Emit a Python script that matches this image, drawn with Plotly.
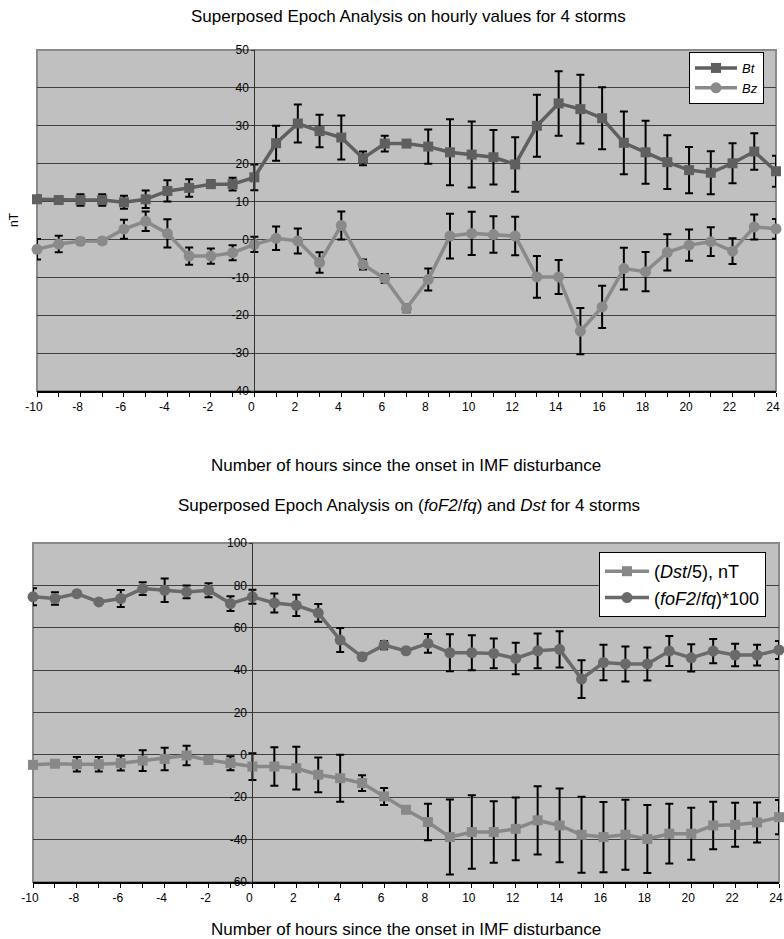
import plotly.graph_objects as go

hours = list(range(-10, 25))

bt = [10.6, 10.4, 10.4, 10.4, 9.8, 10.6, 12.8, 13.6, 14.6, 14.6, 16.4,
      25.4, 30.6, 28.6, 26.9, 21.4, 25.3, 25.3, 24.5, 23.0, 22.4, 21.7, 19.8,
      30.0, 35.9, 34.4, 32.0, 25.5, 23.0, 20.4, 18.3, 17.6, 20.1, 23.2, 18.0]
bt_err = [1.0, 0.8, 1.5, 1.5, 1.7, 2.3, 2.8, 2.3, 1.0, 1.7, 3.4,
          4.6, 5.0, 4.3, 5.8, 1.8, 2.1, 0.5, 4.5, 8.7, 8.7, 7.2, 7.2,
          8.2, 8.5, 9.1, 8.2, 8.3, 8.3, 7.1, 6.1, 5.7, 5.3, 4.8, 4.1]

bz = [-2.6, -1.2, -0.5, -0.4, 2.7, 4.8, 1.6, -4.4, -4.4, -3.5, -1.3,
      0.3, -0.4, -6.1, 3.7, -6.6, -10.3, -18.2, -10.6, 0.9, 1.6, 1.3, 0.9,
      -9.9, -9.9, -24.2, -17.8, -7.7, -8.5, -3.4, -1.5, -0.6, -3.1, 3.3, 2.8]
bz_err = [2.7, 2.2, 0.8, 0.8, 2.5, 2.6, 3.7, 2.3, 2.0, 2.0, 2.0,
          3.1, 3.3, 2.7, 3.7, 1.3, 1.2, 1.0, 2.9, 5.9, 5.7, 4.8, 5.1,
          5.5, 4.5, 6.1, 5.6, 5.5, 5.2, 4.8, 4.1, 3.8, 3.4, 3.3, 2.6]

fof2 = [74.6, 73.8, 76.1, 72.2, 73.8, 78.5, 77.7, 76.9, 77.7, 71.4, 74.6,
        71.7, 70.6, 67.0, 54.2, 46.3, 51.8, 49.1, 52.6, 48.2, 48.2, 47.9, 45.5,
        49.1, 49.8, 35.8, 43.6, 42.9, 42.9, 49.0, 45.8, 49.0, 47.1, 47.1, 49.5]
fof2_err = [4.0, 3.0, 1.0, 1.0, 4.0, 3.0, 5.5, 3.0, 3.3, 3.5, 3.3,
            4.5, 5.0, 4.2, 5.7, 1.5, 2.0, 1.5, 4.4, 8.7, 8.3, 7.0, 7.4,
            8.2, 8.6, 8.9, 8.4, 8.3, 7.8, 7.1, 6.4, 5.7, 5.3, 4.9, 4.2]

dst5 = [-4.7, -4.2, -4.4, -4.4, -3.9, -2.7, -1.9, -0.3, -2.4, -3.9, -5.5,
        -5.5, -6.3, -9.4, -11.0, -13.3, -19.6, -25.9, -31.7, -38.8, -36.4, -36.4, -34.9,
        -30.9, -33.3, -37.7, -38.8, -37.7, -39.7, -37.2, -37.2, -33.3, -33.0, -31.9, -29.4]
dst5_err = [1.0, 1.0, 3.4, 3.4, 3.5, 4.9, 5.3, 4.6, 1.2, 3.3, 6.3,
            9.1, 10.1, 8.2, 11.1, 3.7, 4.0, 1.5, 8.6, 17.7, 17.3, 14.5, 14.8,
            16.1, 17.4, 17.9, 16.6, 16.5, 16.1, 14.1, 12.3, 11.2, 10.4, 9.4, 8.1]

top_yticks = [-40, -30, -20, -10, 0, 10, 20, 30, 40, 50]
bot_yticks = [-60, -40, -20, 0, 20, 40, 60, 80, 100]

W, H = 784, 939
FONT = "Liberation Sans, Arial, sans-serif"


def px_x(p):
    return p / W


def px_y(p):
    return 1 - p / H


def err(arr):
    return dict(type="data", array=arr, visible=True, color="black",
                thickness=2, width=4)


fig = go.Figure()
fig.add_trace(go.Scatter(x=hours, y=bt, name="<i>Bt</i>", mode="lines+markers",
                         line=dict(color="#5f5f5f", width=3.5),
                         marker=dict(symbol="square", size=10, color="#5f5f5f"),
                         error_y=err(bt_err), cliponaxis=False,
                         xaxis="x", yaxis="y", legend="legend"))
fig.add_trace(go.Scatter(x=hours, y=bz, name="<i>Bz</i>", mode="lines+markers",
                         line=dict(color="#8a8a8a", width=3.5),
                         marker=dict(symbol="circle", size=11, color="#8a8a8a"),
                         error_y=err(bz_err), cliponaxis=False,
                         xaxis="x", yaxis="y", legend="legend"))
fig.add_trace(go.Scatter(x=hours, y=dst5, name="(<i>Dst</i>/5), nT", mode="lines+markers",
                         line=dict(color="#888888", width=3.5),
                         marker=dict(symbol="square", size=10, color="#888888"),
                         error_y=err(dst5_err), cliponaxis=False,
                         xaxis="x2", yaxis="y2", legend="legend2"))
fig.add_trace(go.Scatter(x=hours, y=fof2, name="(<i>foF2</i>/<i>fq</i>)*100", mode="lines+markers",
                         line=dict(color="#6a6a6a", width=3.5),
                         marker=dict(symbol="circle", size=11, color="#6a6a6a"),
                         error_y=err(fof2_err), cliponaxis=False,
                         xaxis="x2", yaxis="y2", legend="legend2"))

top_dom_x = [px_x(37), px_x(776)]
bot_dom_x = [px_x(33), px_x(779)]
top_dom_y = [px_y(391), px_y(50)]
bot_dom_y = [px_y(882), px_y(543)]

xr = [-10, 24]
frac0 = (0 - xr[0]) / (xr[1] - xr[0])

xtext = [str(h) if h % 2 == 0 else "" for h in hours]

xaxis_common = dict(range=xr, tickvals=hours, ticktext=xtext, ticks="outside",
                    ticklen=4, tickcolor="black", tickwidth=1,
                    showline=True, linecolor="black", linewidth=2,
                    showgrid=False, zeroline=False, automargin=False,
                    ticklabeloverflow="allow", ticklabelshift=-3,
                    tickfont=dict(family=FONT, size=12, color="black"))


def yaxis_common(rng, ticks, dom_x):
    return dict(range=rng, tickvals=ticks, ticktext=[str(t) for t in ticks],
                ticks="outside", ticklen=3, tickcolor="#333333",
                showline=True, linecolor="#333333", linewidth=1,
                showgrid=True, gridcolor="#404040", gridwidth=1,
                zeroline=False, anchor="free", automargin=False,
                position=dom_x[0] + frac0 * (dom_x[1] - dom_x[0]),
                tickfont=dict(family=FONT, size=12, color="black"))


fig.update_layout(
    width=W, height=H,
    margin=dict(l=0, r=0, t=0, b=0, pad=0),
    paper_bgcolor="white",
    plot_bgcolor="#c0c0c0",
    font=dict(family=FONT, color="black"),
    xaxis=dict(domain=top_dom_x, anchor="y", **xaxis_common),
    xaxis2=dict(domain=bot_dom_x, anchor="y2", **xaxis_common),
    yaxis=dict(domain=top_dom_y, **yaxis_common([-40, 50], top_yticks, top_dom_x)),
    yaxis2=dict(domain=bot_dom_y, **yaxis_common([-60, 100], bot_yticks, bot_dom_x)),
    legend=dict(x=px_x(689), y=px_y(52), xanchor="left", yanchor="top",
                bgcolor="white", bordercolor="black", borderwidth=1,
                font=dict(family=FONT, size=13, color="black"),
                itemwidth=42, tracegroupgap=0),
    legend2=dict(x=px_x(599), y=px_y(552), xanchor="left", yanchor="top",
                 bgcolor="white", bordercolor="black", borderwidth=1,
                 font=dict(family=FONT, size=18, color="black"),
                 itemwidth=44, tracegroupgap=0),
    showlegend=True,
)

# plot-area frames
for xa, ya in (("x", "y"), ("x2", "y2")):
    fig.add_shape(type="rect", xref=f"{xa} domain", yref=f"{ya} domain",
                  x0=0, x1=1, y0=0, y1=1, line=dict(color="#8a8a8a", width=2),
                  fillcolor="rgba(0,0,0,0)", layer="below")

annots = [
    dict(text="Superposed Epoch Analysis on hourly values for 4 storms", x=px_x(409), y=px_y(17), size=17),
    dict(text="Number of hours since the onset in IMF disturbance", x=px_x(406), y=px_y(466), size=17),
    dict(text="Superposed Epoch Analysis on (<i>foF2</i>/<i>fq</i>) and <i>Dst</i> for 4 storms", x=px_x(409), y=px_y(506), size=17),
    dict(text="Number of hours since the onset in IMF disturbance", x=px_x(406), y=px_y(929), size=17),
]
for a in annots:
    fig.add_annotation(text=a["text"], x=a["x"], y=a["y"], xref="paper", yref="paper",
                       xanchor="center", yanchor="middle", showarrow=False,
                       font=dict(family=FONT, size=a["size"], color="black"))
fig.add_annotation(text="nT", x=px_x(14), y=px_y(220), xref="paper", yref="paper",
                   xanchor="center", yanchor="middle", showarrow=False, textangle=-90,
                   font=dict(family=FONT, size=12, color="black"))

fig.write_html("out.html",
               config={"displayModeBar": False},
               post_script="document.body.style.margin='0';document.body.style.overflow='hidden';")
